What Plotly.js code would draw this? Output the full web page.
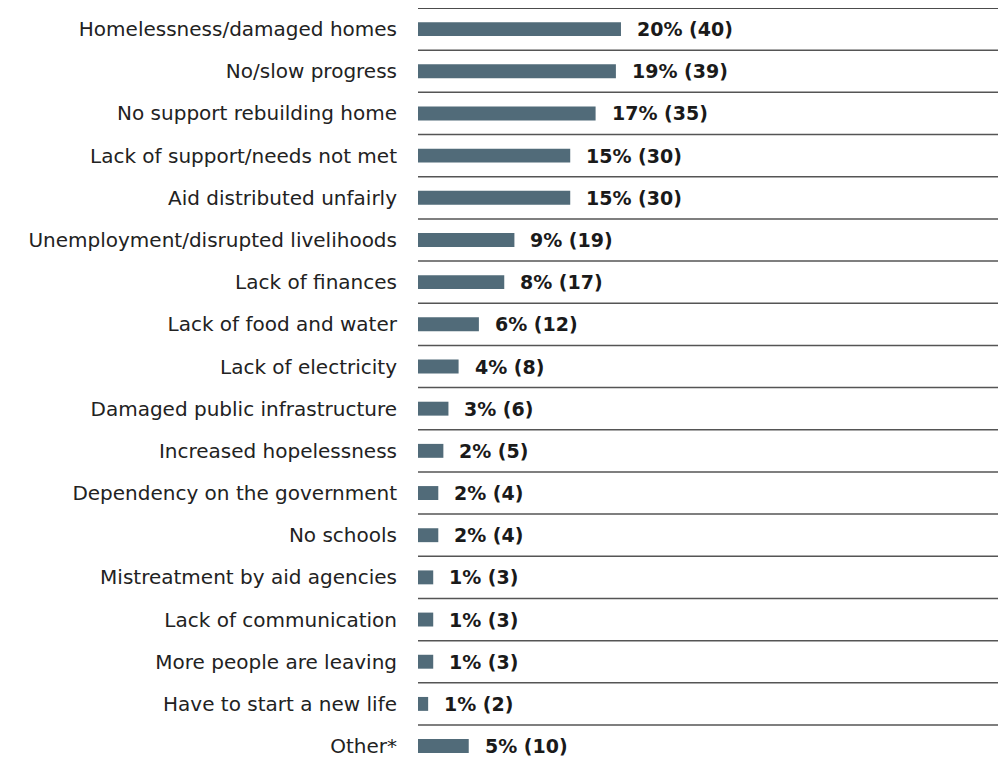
<!DOCTYPE html>
<html>
<head>
<meta charset="utf-8">
<script src="https://cdn.plot.ly/plotly-3.0.1.min.js"></script>
<style>html,body{margin:0;padding:0;background:#fff;}#chart{width:998px;height:760px;}</style>
</head>
<body>
<div id="chart"></div>
<script>
const categories = [
  "Homelessness/damaged homes",
  "No/slow progress",
  "No support rebuilding home",
  "Lack of support/needs not met",
  "Aid distributed unfairly",
  "Unemployment/disrupted livelihoods",
  "Lack of finances",
  "Lack of food and water",
  "Lack of electricity",
  "Damaged public infrastructure",
  "Increased hopelessness",
  "Dependency on the government",
  "No schools",
  "Mistreatment by aid agencies",
  "Lack of communication",
  "More people are leaving",
  "Have to start a new life",
  "Other*"
];
const counts = [40, 39, 35, 30, 30, 19, 17, 12, 8, 6, 5, 4, 4, 3, 3, 3, 2, 10];
const percents = [20, 19, 17, 15, 15, 9, 8, 6, 4, 3, 2, 2, 2, 1, 1, 1, 1, 5];

const FONT = "'DejaVu Sans', 'Open Sans', sans-serif";
const n = categories.length;

const shapes = [];
for (let i = 0; i < n; i++) {
  shapes.push({
    type: 'line', xref: 'paper', yref: 'y',
    x0: 0, x1: 1, y0: i - 0.5, y1: i - 0.5,
    line: {color: i === 0 ? '#111' : '#555', width: 1.5}
  });
}

const annotations = categories.map((c, i) => ({
  x: counts[i], y: i, xref: 'x', yref: 'y',
  text: '<b>' + percents[i] + '% (' + counts[i] + ')</b>',
  showarrow: false, xanchor: 'left', yanchor: 'middle', xshift: 14,
  font: {family: FONT, size: 19, color: '#1a1a1a'}
}));

const trace = {
  type: 'bar', orientation: 'h',
  x: counts,
  y: categories.map((c, i) => i),
  width: 0.33,
  marker: {color: '#516b79'},
  hoverinfo: 'none'
};

const layout = {
  width: 998, height: 760,
  margin: {l: 418, r: 0, t: 8, b: 0},
  paper_bgcolor: '#fff', plot_bgcolor: '#fff',
  showlegend: false,
  xaxis: {range: [0, 114.3], visible: false, fixedrange: true},
  yaxis: {
    type: 'linear',
    range: [17.33, -0.5],
    tickvals: categories.map((c, i) => i),
    ticktext: categories,
    showgrid: false, zeroline: false, showline: false,
    ticks: '', ticklabelstandoff: 20,
    tickfont: {family: FONT, size: 20, color: '#222'}
  },
  shapes: shapes,
  annotations: annotations
};

Plotly.newPlot('chart', [trace], layout, {displayModeBar: false, staticPlot: true});
</script>
</body>
</html>
